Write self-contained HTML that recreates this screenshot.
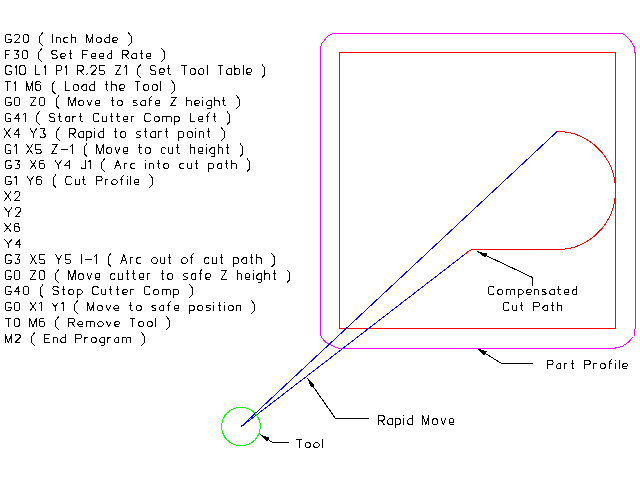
<!DOCTYPE html>
<html><head><meta charset="utf-8"><title>Cutter Compensation</title>
<style>html,body{margin:0;padding:0;background:#fff;width:640px;height:480px;overflow:hidden}svg{display:block}</style>
</head><body>
<svg width="640" height="480" viewBox="0 0 640 480" shape-rendering="crispEdges">
<rect width="640" height="480" fill="#fff"/>
<defs><path id="g40" d="M4 -10.3L1 -6.5L1 0L4 3"/><path id="g41" d="M0 -10.3L3 -6.5L3 0L0 3"/><path id="g48" d="M1.3 0L0 -1.3L0 -7L1.3 -8.3L3.86 -8.3L5.16 -7L5.16 -1.3L3.86 0L1.3 0"/><path id="g49" d="M0 -7L1.72 -8.3L1.72 0"/><path id="g50" d="M0 -7L1.3 -8.3L3.98 -8.3L5.28 -7L5.28 -5.5L0 0L5.28 0"/><path id="g51" d="M0 -8.3L5.12 -8.3L2.8 -4.6L3.82 -4.6L5.12 -3.3L5.12 -1.3L3.82 0L1.3 0L0 -1.3"/><path id="g52" d="M4.5 0L4.5 -8.3L0 -3L5.56 -3"/><path id="g54" d="M4.78 -7.1L3.58 -8.3L1.2 -8.3L0 -7.1L0 -1.2L1.2 0L3.58 0L4.78 -1.2L4.78 -4.1L3.58 -5.3L0 -5.3"/><path id="g65" d="M0 0L3.04 -8.3L6.08 0M1.03 -2.8L5.05 -2.8"/><path id="g67" d="M5.7 -7L4.4 -8.3L1.3 -8.3L0 -7L0 -1.3L1.3 0L4.4 0L5.7 -1.3"/><path id="g69" d="M5.15 -8.3L0 -8.3L0 0L5.15 0M0 -4.2L3.86 -4.2"/><path id="g70" d="M5.22 -8.3L0 -8.3L0 0M0 -4.2L3.92 -4.2"/><path id="g71" d="M5.67 -7L4.37 -8.3L1.3 -8.3L0 -7L0 -1.3L1.3 0L4.37 0L5.67 -1.3L5.67 -3.2L2.83 -3.2"/><path id="g73" d="M0 0L0 -8.3"/><path id="g74" d="M1 -2.2L1 0L4.24 0L4.24 -8.3"/><path id="g76" d="M0 -8.3L0 0L4.74 0"/><path id="g77" d="M0 0L0 -8.3L3.12 0L6.25 -8.3L6.25 0"/><path id="g80" d="M0 0L0 -8.3L4.31 -8.3L5.61 -7L5.61 -5.3L4.31 -4L0 -4"/><path id="g82" d="M0 0L0 -8.3L4.47 -8.3L5.77 -7L5.77 -5.3L4.47 -4L0 -4M2.88 -4L5.77 0"/><path id="g83" d="M5.42 -7L4.12 -8.3L1.3 -8.3L0 -7L0 -5.6L1.3 -4.3L4.12 -4L5.42 -2.7L5.42 -1.3L4.12 0L1.3 0L0 -1.3"/><path id="g84" d="M0 -8.3L5.37 -8.3M2.68 -8.3L2.68 0"/><path id="g88" d="M0 0L5.75 -8.3M0 -8.3L5.75 0"/><path id="g89" d="M0 -8.3L3.32 -4L6.64 -8.3M3.32 -4L3.32 0"/><path id="g90" d="M0 -8.3L5.62 -8.3L0 0L5.62 0"/><path id="g97" d="M4.43 -5.3L4.43 0M4.43 -5.3L2 -5.3L0 -3.3L0 -1.5L1.5 0L4.43 0"/><path id="g99" d="M4.56 -4.3L3.56 -5.3L1.5 -5.3L0 -3.8L0 -1.5L1.5 0L3.56 0L4.56 -1"/><path id="g100" d="M4.55 -8.3L4.55 0M4.55 -5.3L2 -5.3L0 -3.3L0 -1.5L1.5 0L4.55 0"/><path id="g101" d="M0 -2.7L4.67 -2.7L4.67 -4.3L3.67 -5.3L1.5 -5.3L0 -3.8L0 -1.5L1.5 0L4.67 0"/><path id="g102" d="M1.2 0L1.2 -7.1L2.4 -8.8L3.32 -8.8M0 -5.3L2.92 -5.3"/><path id="g103" d="M4.65 -5.3L4.65 1.9L3.65 2.9L1 2.9M4.65 -5.3L2 -5.3L0 -3.3L0 -1.5L1.5 0L4.65 0"/><path id="g104" d="M0 -8.3L0 0M0 -4.3L1 -5.3L3.47 -5.3L4.47 -4.3L4.47 0"/><path id="g105" d="M0 0L0 -5.3M0 -7.3L0 -8.3"/><path id="g108" d="M0 0L0 -8.3"/><path id="g109" d="M0 0L0 -5.3M0 -4.3L1 -5.3L3.23 -5.3L4.23 -4.3L4.23 0M4.23 -4.3L5.23 -5.3L7.47 -5.3L8.47 -4.3L8.47 0"/><path id="g110" d="M0 -5.3L0 0M0 -4.3L1 -5.3L3.03 -5.3L4.03 -4.3L4.03 0"/><path id="g111" d="M1.5 0L0 -1.5L0 -3.8L1.5 -5.3L3.7 -5.3L5.2 -3.8L5.2 -1.5L3.7 0L1.5 0"/><path id="g112" d="M0 -5.3L0 2.9M0 -5.3L3.45 -5.3L4.95 -3.8L4.95 -1.5L3.45 0L0 0"/><path id="g114" d="M0 -5.3L0 0M0 -4.1L1.2 -5.3L3.05 -5.3"/><path id="g115" d="M4.26 -5.3L1 -5.3L0 -4.3L1 -2.9L3.26 -2.6L4.26 -1.5L3.26 0L0 0"/><path id="g116" d="M1.5 -8.3L1.5 -1L2.5 0L3.34 0M0 -5.3L3.04 -5.3"/><path id="g117" d="M0 -5.3L0 -1L1 0L2.94 0L3.94 -1M3.94 -5.3L3.94 0"/><path id="g118" d="M0 -5.3L2.32 0L4.64 -5.3"/><path id="g256" d="M-0.9 0L5.75 -8.3M-0.9 -8.3L5.75 0"/><path id="g257" d="M-0.9 -8.3L2.92 -4L6.64 -8.3M2.92 -4L2.92 0"/><path id="h40" d="M4 -10.3L1 -6.5L1 0L4 3"/><path id="h41" d="M0 -10.3L3 -6.5L3 0L0 3"/><path id="h45" d="M0 -4L7.1 -4"/><path id="h46" d="M0.3 0.3L0.3 -0.6L1.1 -1.5"/><path id="h48" d="M1.3 0L0 -1.3L0 -8L1.3 -9.3L3.86 -9.3L5.16 -8L5.16 -1.3L3.86 0L1.3 0"/><path id="h49" d="M0 -7L1.72 -9.3L1.72 0"/><path id="h50" d="M0 -7L1.3 -9.3L3.98 -9.3L5.28 -8L5.28 -5.5L0 0L5.28 0"/><path id="h51" d="M0 -9.3L5.12 -9.3L2.8 -4.6L3.82 -4.6L5.12 -3.3L5.12 -1.3L3.82 0L1.3 0L0 -1.3"/><path id="h52" d="M4.5 0L4.5 -9.3L0 -3L5.56 -3"/><path id="h53" d="M5.29 -9.3L0 -9.3L0 -4.2L3.99 -4.2L5.29 -2.9L5.29 -1.3L3.99 0L1.3 0L0 -1.3"/><path id="h54" d="M4.78 -8.1L3.58 -9.3L1.2 -9.3L0 -8.1L0 -1.2L1.2 0L3.58 0L4.78 -1.2L4.78 -5.05L3.58 -6.25L0 -6.25"/><path id="h65" d="M0 0L3.04 -9.3L6.08 0M1.03 -2.8L5.05 -2.8"/><path id="h71" d="M5.67 -8L4.37 -9.3L1.3 -9.3L0 -8L0 -1.3L1.3 0L4.37 0L5.67 -1.3L5.67 -3.2L2.83 -3.2"/><path id="h73" d="M0 0L0 -9.3"/><path id="h76" d="M0 -9.3L0 0L4.74 0"/><path id="h77" d="M0 0L0 -9.3L3.12 0L6.25 -9.3L6.25 0"/><path id="h80" d="M0 0L0 -9.3L4.31 -9.3L5.61 -8L5.61 -5.3L4.31 -4L0 -4"/><path id="h82" d="M0 0L0 -9.3L4.47 -9.3L5.77 -8L5.77 -5.3L4.47 -4L0 -4M2.88 -4L5.77 0"/><path id="h83" d="M5.42 -8L4.12 -9.3L1.3 -9.3L0 -8L0 -5.6L1.3 -4.3L4.12 -4L5.42 -2.7L5.42 -1.3L4.12 0L1.3 0L0 -1.3"/><path id="h84" d="M0 -9.3L5.37 -9.3M2.68 -9.3L2.68 0"/><path id="h88" d="M0 0L5.75 -9.3M0 -9.3L5.75 0"/><path id="h89" d="M0 -9.3L3.32 -4L6.64 -9.3M3.32 -4L3.32 0"/><path id="h90" d="M0 -9.3L5.62 -9.3L0 0L5.62 0"/><path id="h97" d="M4.43 -6.25L4.43 0M4.43 -6.25L2 -6.25L0 -4.25L0 -1.5L1.5 0L4.43 0"/><path id="h98" d="M0 -9.3L0 0M0 -4.75L1.5 -6.25L3.94 -6.25L5.44 -4.75L5.44 -1.5L3.94 0L1.5 0L0 -1.5"/><path id="h99" d="M4.56 -5.25L3.56 -6.25L1.5 -6.25L0 -4.75L0 -1.5L1.5 0L3.56 0L4.56 -1"/><path id="h100" d="M4.55 -9.3L4.55 0M4.55 -6.25L2 -6.25L0 -4.25L0 -1.5L1.5 0L4.55 0"/><path id="h101" d="M0 -2.7L4.67 -2.7L4.67 -5.25L3.67 -6.25L1.5 -6.25L0 -4.75L0 -1.5L1.5 0L4.67 0"/><path id="h102" d="M1.2 0L1.2 -8.1L2.4 -9.8L3.32 -9.8M0 -6.25L2.92 -6.25"/><path id="h103" d="M4.65 -6.25L4.65 2L3.65 3L1 3M4.65 -6.25L2 -6.25L0 -4.25L0 -1.5L1.5 0L4.65 0"/><path id="h104" d="M0 -9.3L0 0M0 -5.25L1 -6.25L3.47 -6.25L4.47 -5.25L4.47 0"/><path id="h105" d="M0 0L0 -6.25M0 -8.3L0 -9.3"/><path id="h108" d="M0 0L0 -9.3"/><path id="h110" d="M0 -6.25L0 0M0 -5.25L1 -6.25L3.03 -6.25L4.03 -5.25L4.03 0"/><path id="h111" d="M1.5 0L0 -1.5L0 -4.75L1.5 -6.25L3.7 -6.25L5.2 -4.75L5.2 -1.5L3.7 0L1.5 0"/><path id="h112" d="M0 -6.25L0 3M0 -6.25L3.45 -6.25L4.95 -4.75L4.95 -1.5L3.45 0L0 0"/><path id="h114" d="M0 -6.25L0 0M0 -5.05L1.2 -6.25L3.05 -6.25"/><path id="h115" d="M4.26 -6.25L1 -6.25L0 -5.25L1 -2.9L3.26 -2.6L4.26 -1.5L3.26 0L0 0"/><path id="h116" d="M1.5 -9.3L1.5 -1L2.5 0L3.34 0M0 -6.25L3.04 -6.25"/><path id="h117" d="M0 -6.25L0 -1L1 0L2.94 0L3.94 -1M3.94 -6.25L3.94 0"/><path id="h118" d="M0 -6.25L2.32 0L4.64 -6.25"/><path id="h256" d="M-0.9 0L5.75 -9.3M-0.9 -9.3L5.75 0"/><path id="h257" d="M-0.9 -9.3L2.92 -4L6.64 -9.3M2.92 -4L2.92 0"/></defs>
<path d="M332.5 33.5H621.5L624.5 34.5L628.5 38.3L631.5 42L634 46.5V51.5L635.5 53V328.5L634.5 330V335L633.5 336.5L629 341.5L627 343.3L624 345.2L621.5 346.7L616 347.6L615 348.5H339.5L336 347.5L331.5 345.3L327 343L324.5 341.2L322.5 338.5L320.5 335.5V48L322 43L325.5 39L327.5 36.4L331 34.5Z" fill="none" stroke="#f0f" stroke-width="1"/>
<rect x="339.5" y="52.5" width="276" height="276" fill="none" stroke="#f00" stroke-width="1"/>
<path d="M557.5 131.5A58 59 0 0 1 557.5 249.5H472.5Q468.5 250.5 465.5 253.8" fill="none" stroke="#f00" stroke-width="1"/>
<path d="M557.5 131.2L241.5 426.2M465.5 253.8L241.5 426.5" fill="none" stroke="#00f" stroke-width="1"/>
<circle cx="241" cy="426.5" r="19.3" fill="none" stroke="#0f0" stroke-width="1"/>
<path d="M477.5 251.5L532.5 277.5L532.5 285.5" fill="none" stroke="#000" stroke-width="1" stroke-linejoin="bevel"/>
<path d="M477.5 251.5L485.11 257.64L487.07 253.48Z" fill="#000"/>
<path d="M477.5 348.5L501.5 363.5L532.5 363.5" fill="none" stroke="#000" stroke-width="1" stroke-linejoin="bevel"/>
<path d="M477.5 348.5L484.34 355.49L486.77 351.58Z" fill="#000"/>
<path d="M307.5 378.5L335.5 418.5L368.5 418.5" fill="none" stroke="#000" stroke-width="1" stroke-linejoin="bevel"/>
<path d="M307.5 378.5L311.06 387.6L314.83 384.96Z" fill="#000"/>
<path d="M260.5 434.5L272.5 442.5L288.5 442.5" fill="none" stroke="#000" stroke-width="1" stroke-linejoin="bevel"/>
<path d="M260.5 434.5L267.13 441.68L269.68 437.86Z" fill="#000"/>
<g fill="none" stroke="#000" stroke-width="1" stroke-linecap="butt" stroke-linejoin="bevel"><use href="#g71" x="5.4" y="42.7"/><use href="#g50" x="14.47" y="42.7"/><use href="#g48" x="23.15" y="42.7"/><use href="#g40" x="38.93" y="42.7"/><use href="#g73" x="52.74" y="42.7"/><use href="#g110" x="56.13" y="42.7"/><use href="#g99" x="63.56" y="42.7"/><use href="#g104" x="71.52" y="42.7"/><use href="#g77" x="86.61" y="42.7"/><use href="#g111" x="96.26" y="42.7"/><use href="#g100" x="104.86" y="42.7"/><use href="#g101" x="112.81" y="42.7"/><use href="#g41" x="128.1" y="42.7"/><use href="#g70" x="5.04" y="58.7"/><use href="#g51" x="13.66" y="58.7"/><use href="#g48" x="22.18" y="58.7"/><use href="#g40" x="37.96" y="58.7"/><use href="#g83" x="51.77" y="58.7"/><use href="#g101" x="60.59" y="58.7"/><use href="#g116" x="68.66" y="58.7"/><use href="#g70" x="82.62" y="58.7"/><use href="#g101" x="91.24" y="58.7"/><use href="#g101" x="99.31" y="58.7"/><use href="#g100" x="107.38" y="58.7"/><use href="#g82" x="122.55" y="58.7"/><use href="#g97" x="131.72" y="58.7"/><use href="#g116" x="139.55" y="58.7"/><use href="#g101" x="146.29" y="58.7"/><use href="#g41" x="161.58" y="58.7"/><use href="#h71" x="5.72" y="74.7"/><use href="#h49" x="14.79" y="74.7"/><use href="#h48" x="19.91" y="74.7"/><use href="#h76" x="35.69" y="74.7"/><use href="#h49" x="43.83" y="74.7"/><use href="#h80" x="56.17" y="74.7"/><use href="#h49" x="65.18" y="74.7"/><use href="#h82" x="77.52" y="74.7"/><use href="#h46" x="86.69" y="74.7"/><use href="#h50" x="90.8" y="74.7"/><use href="#h53" x="99.48" y="74.7"/><use href="#h90" x="115.39" y="74.7"/><use href="#h49" x="124.41" y="74.7"/><use href="#h40" x="136.75" y="74.7"/><use href="#h83" x="150.56" y="74.7"/><use href="#h101" x="159.38" y="74.7"/><use href="#h116" x="167.45" y="74.7"/><use href="#h84" x="181.41" y="74.7"/><use href="#h111" x="190.18" y="74.7"/><use href="#h111" x="198.78" y="74.7"/><use href="#h108" x="207.38" y="74.7"/><use href="#h84" x="217.92" y="74.7"/><use href="#h97" x="226.69" y="74.7"/><use href="#h98" x="234.52" y="74.7"/><use href="#h108" x="243.36" y="74.7"/><use href="#h101" x="246.68" y="74.7"/><use href="#h41" x="261.97" y="74.7"/><use href="#h84" x="5.2" y="90.7"/><use href="#h49" x="13.97" y="90.7"/><use href="#h77" x="26.31" y="90.7"/><use href="#h54" x="35.96" y="90.7"/><use href="#h40" x="51.36" y="90.7"/><use href="#h76" x="65.17" y="90.7"/><use href="#h111" x="73.31" y="90.7"/><use href="#h97" x="81.91" y="90.7"/><use href="#h100" x="89.74" y="90.7"/><use href="#h116" x="104.91" y="90.7"/><use href="#h104" x="111.65" y="90.7"/><use href="#h101" x="119.52" y="90.7"/><use href="#h84" x="134.81" y="90.7"/><use href="#h111" x="143.58" y="90.7"/><use href="#h111" x="152.18" y="90.7"/><use href="#h108" x="160.78" y="90.7"/><use href="#h41" x="171.32" y="90.7"/><use href="#g71" x="5.49" y="105.7"/><use href="#g48" x="14.56" y="105.7"/><use href="#g90" x="30.34" y="105.7"/><use href="#g48" x="39.36" y="105.7"/><use href="#g40" x="55.14" y="105.7"/><use href="#g77" x="68.95" y="105.7"/><use href="#g111" x="78.6" y="105.7"/><use href="#g118" x="87.2" y="105.7"/><use href="#g101" x="95.24" y="105.7"/><use href="#g116" x="110.53" y="105.7"/><use href="#g111" x="117.27" y="105.7"/><use href="#g115" x="133.09" y="105.7"/><use href="#g97" x="140.75" y="105.7"/><use href="#g102" x="148.58" y="105.7"/><use href="#g101" x="155.3" y="105.7"/><use href="#g90" x="170.59" y="105.7"/><use href="#g104" x="186.83" y="105.7"/><use href="#g101" x="194.7" y="105.7"/><use href="#g105" x="202.77" y="105.7"/><use href="#g103" x="206.49" y="105.7"/><use href="#g104" x="214.54" y="105.7"/><use href="#g116" x="222.41" y="105.7"/><use href="#g41" x="236.37" y="105.7"/><use href="#g71" x="5.32" y="121.7"/><use href="#g52" x="14.39" y="121.7"/><use href="#g49" x="23.35" y="121.7"/><use href="#g40" x="35.69" y="121.7"/><use href="#g83" x="49.5" y="121.7"/><use href="#g116" x="58.32" y="121.7"/><use href="#g97" x="65.06" y="121.7"/><use href="#g114" x="72.89" y="121.7"/><use href="#g116" x="79.34" y="121.7"/><use href="#g67" x="93.3" y="121.7"/><use href="#g117" x="102.4" y="121.7"/><use href="#g116" x="109.74" y="121.7"/><use href="#g116" x="116.48" y="121.7"/><use href="#g101" x="123.22" y="121.7"/><use href="#g114" x="131.29" y="121.7"/><use href="#g67" x="144.96" y="121.7"/><use href="#g111" x="154.06" y="121.7"/><use href="#g109" x="162.66" y="121.7"/><use href="#g112" x="174.53" y="121.7"/><use href="#g76" x="190.1" y="121.7"/><use href="#g101" x="198.24" y="121.7"/><use href="#g102" x="206.31" y="121.7"/><use href="#g116" x="213.03" y="121.7"/><use href="#g41" x="226.99" y="121.7"/><use href="#h256" x="4.81" y="137.7"/><use href="#h52" x="13.96" y="137.7"/><use href="#h89" x="30.14" y="137.7"/><use href="#h51" x="39.98" y="137.7"/><use href="#h40" x="55.72" y="137.7"/><use href="#h82" x="69.53" y="137.7"/><use href="#h97" x="78.7" y="137.7"/><use href="#h112" x="86.53" y="137.7"/><use href="#h105" x="94.88" y="137.7"/><use href="#h100" x="98.6" y="137.7"/><use href="#h116" x="113.77" y="137.7"/><use href="#h111" x="120.51" y="137.7"/><use href="#h115" x="136.33" y="137.7"/><use href="#h116" x="143.99" y="137.7"/><use href="#h97" x="150.73" y="137.7"/><use href="#h114" x="158.56" y="137.7"/><use href="#h116" x="165.01" y="137.7"/><use href="#h112" x="178.97" y="137.7"/><use href="#h111" x="187.32" y="137.7"/><use href="#h105" x="195.92" y="137.7"/><use href="#h110" x="199.64" y="137.7"/><use href="#h116" x="207.07" y="137.7"/><use href="#h41" x="221.03" y="137.7"/><use href="#h71" x="5.25" y="153.7"/><use href="#h49" x="14.32" y="153.7"/><use href="#h88" x="26.66" y="153.7"/><use href="#h53" x="35.81" y="153.7"/><use href="#h90" x="51.72" y="153.7"/><use href="#h45" x="60.74" y="153.7"/><use href="#h49" x="70.74" y="153.7"/><use href="#h40" x="83.08" y="153.7"/><use href="#h77" x="96.89" y="153.7"/><use href="#h111" x="106.54" y="153.7"/><use href="#h118" x="115.14" y="153.7"/><use href="#h101" x="123.18" y="153.7"/><use href="#h116" x="138.47" y="153.7"/><use href="#h111" x="145.21" y="153.7"/><use href="#h99" x="161.03" y="153.7"/><use href="#h117" x="168.99" y="153.7"/><use href="#h116" x="176.33" y="153.7"/><use href="#h104" x="190.29" y="153.7"/><use href="#h101" x="198.16" y="153.7"/><use href="#h105" x="206.23" y="153.7"/><use href="#h103" x="209.95" y="153.7"/><use href="#h104" x="218" y="153.7"/><use href="#h116" x="225.87" y="153.7"/><use href="#h41" x="239.83" y="153.7"/><use href="#g71" x="5.6" y="168.7"/><use href="#g51" x="14.67" y="168.7"/><use href="#g88" x="30.41" y="168.7"/><use href="#g54" x="39.56" y="168.7"/><use href="#g89" x="54.96" y="168.7"/><use href="#g52" x="64.8" y="168.7"/><use href="#g74" x="80.98" y="168.7"/><use href="#g49" x="88.62" y="168.7"/><use href="#g40" x="100.96" y="168.7"/><use href="#g65" x="114.77" y="168.7"/><use href="#g114" x="124.25" y="168.7"/><use href="#g99" x="130.7" y="168.7"/><use href="#g105" x="145.88" y="168.7"/><use href="#g110" x="149.6" y="168.7"/><use href="#g116" x="157.03" y="168.7"/><use href="#g111" x="163.77" y="168.7"/><use href="#g99" x="179.59" y="168.7"/><use href="#g117" x="187.55" y="168.7"/><use href="#g116" x="194.89" y="168.7"/><use href="#g112" x="208.85" y="168.7"/><use href="#g97" x="217.2" y="168.7"/><use href="#g116" x="225.03" y="168.7"/><use href="#g104" x="231.77" y="168.7"/><use href="#g41" x="246.86" y="168.7"/><use href="#g71" x="5.53" y="184.7"/><use href="#g49" x="14.6" y="184.7"/><use href="#g89" x="26.94" y="184.7"/><use href="#g54" x="36.78" y="184.7"/><use href="#g40" x="52.18" y="184.7"/><use href="#g67" x="65.99" y="184.7"/><use href="#g117" x="75.09" y="184.7"/><use href="#g116" x="82.43" y="184.7"/><use href="#g80" x="96.39" y="184.7"/><use href="#g114" x="105.4" y="184.7"/><use href="#g111" x="111.85" y="184.7"/><use href="#g102" x="120.45" y="184.7"/><use href="#g105" x="127.17" y="184.7"/><use href="#g108" x="130.89" y="184.7"/><use href="#g101" x="134.21" y="184.7"/><use href="#g41" x="149.5" y="184.7"/><use href="#h256" x="5.35" y="200.7"/><use href="#h50" x="14.5" y="200.7"/><use href="#h257" x="5.35" y="216.7"/><use href="#h50" x="15.19" y="216.7"/><use href="#g256" x="5.35" y="231.7"/><use href="#g54" x="14.5" y="231.7"/><use href="#g257" x="5.35" y="247.7"/><use href="#g52" x="15.19" y="247.7"/><use href="#h71" x="5.65" y="263.7"/><use href="#h51" x="14.72" y="263.7"/><use href="#h88" x="30.46" y="263.7"/><use href="#h53" x="39.61" y="263.7"/><use href="#h89" x="55.52" y="263.7"/><use href="#h53" x="65.36" y="263.7"/><use href="#h73" x="81.27" y="263.7"/><use href="#h45" x="84.66" y="263.7"/><use href="#h49" x="94.66" y="263.7"/><use href="#h40" x="107" y="263.7"/><use href="#h65" x="120.81" y="263.7"/><use href="#h114" x="130.29" y="263.7"/><use href="#h99" x="136.74" y="263.7"/><use href="#h111" x="151.92" y="263.7"/><use href="#h117" x="160.52" y="263.7"/><use href="#h116" x="167.86" y="263.7"/><use href="#h111" x="181.82" y="263.7"/><use href="#h102" x="190.42" y="263.7"/><use href="#h99" x="204.36" y="263.7"/><use href="#h117" x="212.32" y="263.7"/><use href="#h116" x="219.66" y="263.7"/><use href="#h112" x="233.62" y="263.7"/><use href="#h97" x="241.97" y="263.7"/><use href="#h116" x="249.8" y="263.7"/><use href="#h104" x="256.54" y="263.7"/><use href="#h41" x="271.63" y="263.7"/><use href="#h71" x="5.34" y="279.7"/><use href="#h48" x="14.41" y="279.7"/><use href="#h90" x="30.19" y="279.7"/><use href="#h48" x="39.21" y="279.7"/><use href="#h40" x="54.99" y="279.7"/><use href="#h77" x="68.8" y="279.7"/><use href="#h111" x="78.45" y="279.7"/><use href="#h118" x="87.05" y="279.7"/><use href="#h101" x="95.09" y="279.7"/><use href="#h99" x="110.38" y="279.7"/><use href="#h117" x="118.34" y="279.7"/><use href="#h116" x="125.68" y="279.7"/><use href="#h116" x="132.42" y="279.7"/><use href="#h101" x="139.16" y="279.7"/><use href="#h114" x="147.23" y="279.7"/><use href="#h116" x="160.9" y="279.7"/><use href="#h111" x="167.64" y="279.7"/><use href="#h115" x="183.46" y="279.7"/><use href="#h97" x="191.12" y="279.7"/><use href="#h102" x="198.95" y="279.7"/><use href="#h101" x="205.67" y="279.7"/><use href="#h90" x="220.96" y="279.7"/><use href="#h104" x="237.2" y="279.7"/><use href="#h101" x="245.07" y="279.7"/><use href="#h105" x="253.14" y="279.7"/><use href="#h103" x="256.86" y="279.7"/><use href="#h104" x="264.91" y="279.7"/><use href="#h116" x="272.78" y="279.7"/><use href="#h41" x="286.74" y="279.7"/><use href="#g71" x="5.35" y="294.7"/><use href="#g52" x="14.42" y="294.7"/><use href="#g48" x="23.38" y="294.7"/><use href="#g40" x="39.16" y="294.7"/><use href="#g83" x="52.97" y="294.7"/><use href="#g116" x="61.79" y="294.7"/><use href="#g111" x="68.53" y="294.7"/><use href="#g112" x="77.13" y="294.7"/><use href="#g67" x="92.7" y="294.7"/><use href="#g117" x="101.8" y="294.7"/><use href="#g116" x="109.14" y="294.7"/><use href="#g116" x="115.88" y="294.7"/><use href="#g101" x="122.62" y="294.7"/><use href="#g114" x="130.69" y="294.7"/><use href="#g67" x="144.36" y="294.7"/><use href="#g111" x="153.46" y="294.7"/><use href="#g109" x="162.06" y="294.7"/><use href="#g112" x="173.93" y="294.7"/><use href="#g41" x="189.5" y="294.7"/><use href="#g71" x="5.36" y="310.7"/><use href="#g48" x="14.43" y="310.7"/><use href="#g88" x="30.21" y="310.7"/><use href="#g49" x="39.36" y="310.7"/><use href="#g89" x="51.7" y="310.7"/><use href="#g49" x="61.54" y="310.7"/><use href="#g40" x="73.88" y="310.7"/><use href="#g77" x="87.69" y="310.7"/><use href="#g111" x="97.34" y="310.7"/><use href="#g118" x="105.94" y="310.7"/><use href="#g101" x="113.98" y="310.7"/><use href="#g116" x="129.27" y="310.7"/><use href="#g111" x="136.01" y="310.7"/><use href="#g115" x="151.83" y="310.7"/><use href="#g97" x="159.49" y="310.7"/><use href="#g102" x="167.32" y="310.7"/><use href="#g101" x="174.04" y="310.7"/><use href="#g112" x="189.33" y="310.7"/><use href="#g111" x="197.68" y="310.7"/><use href="#g115" x="206.28" y="310.7"/><use href="#g105" x="213.94" y="310.7"/><use href="#g116" x="217.66" y="310.7"/><use href="#g105" x="224.4" y="310.7"/><use href="#g111" x="228.12" y="310.7"/><use href="#g110" x="236.72" y="310.7"/><use href="#g41" x="251.37" y="310.7"/><use href="#g84" x="5.37" y="326.7"/><use href="#g48" x="14.14" y="326.7"/><use href="#g77" x="29.92" y="326.7"/><use href="#g54" x="39.57" y="326.7"/><use href="#g40" x="54.97" y="326.7"/><use href="#g82" x="68.78" y="326.7"/><use href="#g101" x="77.95" y="326.7"/><use href="#g109" x="86.02" y="326.7"/><use href="#g111" x="97.89" y="326.7"/><use href="#g118" x="106.49" y="326.7"/><use href="#g101" x="114.53" y="326.7"/><use href="#g84" x="129.82" y="326.7"/><use href="#g111" x="138.59" y="326.7"/><use href="#g111" x="147.19" y="326.7"/><use href="#g108" x="155.79" y="326.7"/><use href="#g41" x="166.33" y="326.7"/><use href="#g77" x="5.31" y="342.7"/><use href="#g50" x="14.96" y="342.7"/><use href="#g40" x="30.86" y="342.7"/><use href="#g69" x="44.67" y="342.7"/><use href="#g110" x="53.22" y="342.7"/><use href="#g100" x="60.65" y="342.7"/><use href="#g80" x="75.82" y="342.7"/><use href="#g114" x="84.83" y="342.7"/><use href="#g111" x="91.28" y="342.7"/><use href="#g103" x="99.88" y="342.7"/><use href="#g114" x="107.93" y="342.7"/><use href="#g97" x="114.38" y="342.7"/><use href="#g109" x="122.21" y="342.7"/><use href="#g41" x="141.3" y="342.7"/><use href="#g67" x="488.57" y="294.7"/><use href="#g111" x="497.67" y="294.7"/><use href="#g109" x="506.27" y="294.7"/><use href="#g112" x="518.14" y="294.7"/><use href="#g101" x="526.49" y="294.7"/><use href="#g110" x="534.56" y="294.7"/><use href="#g115" x="541.99" y="294.7"/><use href="#g97" x="549.65" y="294.7"/><use href="#g116" x="557.48" y="294.7"/><use href="#g101" x="564.22" y="294.7"/><use href="#g100" x="572.29" y="294.7"/><use href="#g67" x="503.51" y="310.7"/><use href="#g117" x="512.61" y="310.7"/><use href="#g116" x="519.95" y="310.7"/><use href="#g80" x="533.91" y="310.7"/><use href="#g97" x="542.92" y="310.7"/><use href="#g116" x="550.75" y="310.7"/><use href="#g104" x="557.49" y="310.7"/><use href="#g80" x="547.42" y="368.7"/><use href="#g97" x="556.43" y="368.7"/><use href="#g114" x="564.26" y="368.7"/><use href="#g116" x="570.71" y="368.7"/><use href="#g80" x="584.67" y="368.7"/><use href="#g114" x="593.68" y="368.7"/><use href="#g111" x="600.13" y="368.7"/><use href="#g102" x="608.73" y="368.7"/><use href="#g105" x="615.45" y="368.7"/><use href="#g108" x="619.17" y="368.7"/><use href="#g101" x="622.49" y="368.7"/><use href="#h82" x="378.47" y="424.7"/><use href="#h97" x="387.64" y="424.7"/><use href="#h112" x="395.47" y="424.7"/><use href="#h105" x="403.82" y="424.7"/><use href="#h100" x="407.54" y="424.7"/><use href="#h77" x="422.71" y="424.7"/><use href="#h111" x="432.36" y="424.7"/><use href="#h118" x="440.96" y="424.7"/><use href="#h101" x="449" y="424.7"/><use href="#g84" x="296.47" y="447.7"/><use href="#g111" x="305.24" y="447.7"/><use href="#g111" x="313.84" y="447.7"/><use href="#g108" x="322.44" y="447.7"/></g>
</svg>
</body></html>
